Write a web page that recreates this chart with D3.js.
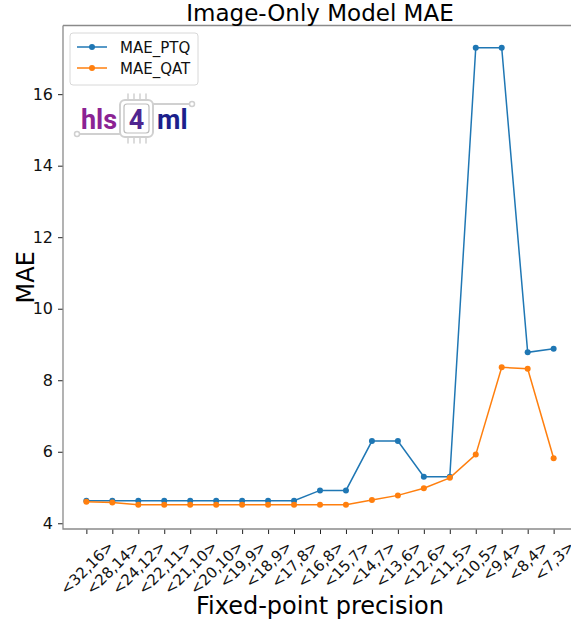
<!DOCTYPE html>
<html lang="en">
<head>
<meta charset="UTF-8">
<title>Image-Only Model MAE</title>
<script src="https://d3js.org/d3.v7.min.js"></script>
<style>
  body { margin: 0; background: #fff; }
  svg { display: block; font-family: "DejaVu Sans", sans-serif; }
</style>
</head>
<body>
<script>

// precisions <total,integer> on the x axis
var precisions = ['<32,16>', '<28,14>', '<24,12>', '<22,11>', '<21,10>', '<20,10>', '<19,9>',
    '<18,9>', '<17,8>', '<16,8>', '<15,7>', '<14,7>', '<13,6>', '<12,6>', '<11,5>',
    '<10,5>', '<9,4>', '<8,4>', '<7,3>'];

// values
var maePTQ = [4.63, 4.63, 4.63, 4.63, 4.63, 4.63, 4.63, 4.63, 4.63, 4.92, 4.92,
    6.30, 6.30, 5.30, 5.30, 17.30, 17.30, 8.78, 8.88];
var maeQAT = [4.60, 4.58, 4.52, 4.52, 4.52, 4.52, 4.52, 4.52, 4.52, 4.52, 4.52,
    4.65, 4.78, 4.98, 5.27, 5.92, 8.36, 8.32, 5.82];

var yTicks = [4, 6, 8, 10, 12, 14, 16];

var series = [
    { name: 'MAE_PTQ', values: maePTQ, color: '#1f77b4' },
    { name: 'MAE_QAT', values: maeQAT, color: '#ff7f0e' }
];

var W = 571, H = 622;
var axL = 63, axR = 577, axT = 25.5, axB = 529;
var font = '"DejaVu Sans", sans-serif';

var svg = d3.select('body').append('svg')
    .attr('width', W)
    .attr('height', H);

// matplotlib style margins: 5% each side
var x = d3.scaleLinear()
    .domain([-0.9, precisions.length - 1 + 0.9])
    .range([axL, axR]);

var y = d3.scaleLinear()
    .domain([3.84, 17.92])
    .range([axB, axT]);

// axes
var xAxis = svg.append('g')
    .attr('transform', 'translate(0,' + axB + ')')
    .call(d3.axisBottom(x)
        .tickValues(d3.range(precisions.length))
        .tickFormat(function(i) { return precisions[i]; })
        .tickSize(5));
xAxis.attr('font-family', font);
xAxis.select('.domain').remove();
xAxis.selectAll('line').attr('stroke', '#222');

// rotated 45deg, centred on the tick, top of the rotated box just under the tick
var tickFs = 15;
xAxis.selectAll('.tick text')
    .attr('font-size', tickFs)
    .attr('fill', '#111')
    .attr('text-anchor', 'middle')
    .attr('x', 0).attr('y', 0).attr('dy', '0.35em')
    .attr('transform', function() {
        var w = this.getComputedTextLength();
        var half = (w + tickFs * 1.05) / (2 * Math.SQRT2);
        return 'translate(0,' + (9 + half) + ') rotate(-45)';
    });

var yAxis = svg.append('g')
    .attr('transform', 'translate(' + axL + ',0)')
    .call(d3.axisLeft(y).tickValues(yTicks).tickSize(5).tickPadding(5));
yAxis.attr('font-family', font);
yAxis.select('.domain').remove();
yAxis.selectAll('line').attr('stroke', '#222');
yAxis.selectAll('text').attr('font-size', 16).attr('fill', '#111');

// spines (right one is cut off by the image edge)
svg.append('path')
    .attr('d', 'M' + axL + ',' + axT + 'H' + axR + 'M' + axL + ',' + axT + 'V' + axB + 'H' + axR)
    .attr('fill', 'none')
    .attr('stroke', '#8a8a8a')
    .attr('stroke-width', 1.3);

// lines + markers
var line = d3.line()
    .x(function(d, i) { return x(i); })
    .y(function(d) { return y(d); });

series.forEach(function(s) {
    svg.append('path')
        .datum(s.values)
        .attr('d', line)
        .attr('fill', 'none')
        .attr('stroke', s.color)
        .attr('stroke-width', 1.5);
    svg.selectAll(null)
        .data(s.values)
        .enter().append('circle')
        .attr('cx', function(d, i) { return x(i); })
        .attr('cy', function(d) { return y(d); })
        .attr('r', 3)
        .attr('fill', s.color);
});

// title and labels
svg.append('text')
    .attr('x', (axL + axR) / 2)
    .attr('y', 21)
    .attr('text-anchor', 'middle')
    .attr('font-size', 23)
    .text('Image-Only Model MAE');

svg.append('text')
    .attr('transform', 'translate(34,' + (axT + axB) / 2 + ') rotate(-90)')
    .attr('text-anchor', 'middle')
    .attr('font-size', 24)
    .text('MAE');

svg.append('text')
    .attr('x', (axL + axR) / 2)
    .attr('y', 614)
    .attr('text-anchor', 'middle')
    .attr('font-size', 24)
    .text('Fixed-point precision');

// legend
var legend = svg.append('g');
legend.append('rect')
    .attr('x', 70).attr('y', 33)
    .attr('width', 128).attr('height', 52)
    .attr('rx', 3)
    .attr('fill', '#fff')
    .attr('fill-opacity', 0.8)
    .attr('stroke', '#d8d8d8');
series.forEach(function(s, i) {
    var ly = 47 + i * 21;
    legend.append('line')
        .attr('x1', 77).attr('x2', 107)
        .attr('y1', ly).attr('y2', ly)
        .attr('stroke', s.color).attr('stroke-width', 1.5);
    legend.append('circle')
        .attr('cx', 92).attr('cy', ly).attr('r', 3)
        .attr('fill', s.color);
    legend.append('text')
        .attr('x', 120).attr('y', ly + 5.5)
        .attr('font-size', 15)
        .attr('fill', '#111')
        .text(s.name);
});

// hls4ml logo
var logo = svg.append('g').attr('stroke-linecap', 'round');
var grey = '#d0d0d0';
logo.append('line').attr('x1', 79).attr('y1', 134).attr('x2', 120).attr('y2', 134)
    .attr('stroke', grey).attr('stroke-width', 2);
logo.append('circle').attr('cx', 77).attr('cy', 134).attr('r', 2.5)
    .attr('fill', '#fff').attr('stroke', grey).attr('stroke-width', 1.5);
logo.append('line').attr('x1', 153).attr('y1', 104).attr('x2', 190).attr('y2', 104)
    .attr('stroke', grey).attr('stroke-width', 2);
logo.append('circle').attr('cx', 192).attr('cy', 104).attr('r', 2.5)
    .attr('fill', '#fff').attr('stroke', grey).attr('stroke-width', 1.5);
[128, 134, 140, 146].forEach(function(px) {
    logo.append('line').attr('x1', px).attr('x2', px).attr('y1', 94).attr('y2', 99)
        .attr('stroke', grey).attr('stroke-width', 1.5);
    logo.append('line').attr('x1', px).attr('x2', px).attr('y1', 138).attr('y2', 143)
        .attr('stroke', grey).attr('stroke-width', 1.5);
});
logo.append('rect').attr('x', 120).attr('y', 100).attr('width', 33).attr('height', 37)
    .attr('rx', 5).attr('fill', '#fff').attr('stroke', grey).attr('stroke-width', 2);
logo.append('rect').attr('x', 124).attr('y', 104).attr('width', 25).attr('height', 29)
    .attr('rx', 3).attr('fill', 'none').attr('stroke', '#bdbdbd').attr('stroke-width', 1.2);
logo.append('text').attr('x', 81).attr('y', 129)
    .attr('font-size', 27).attr('font-weight', 'bold').attr('fill', '#8b2393')
    .attr('font-family', 'Roboto, "DejaVu Sans", sans-serif')
    .text('hls');
logo.append('text').attr('x', 136.5).attr('y', 129)
    .attr('text-anchor', 'middle')
    .attr('font-size', 27).attr('font-weight', 'bold').attr('fill', '#4f2590')
    .attr('font-family', 'Roboto, "DejaVu Sans", sans-serif')
    .text('4');
logo.append('text').attr('x', 157).attr('y', 129)
    .attr('font-size', 27).attr('font-weight', 'bold').attr('fill', '#1c1f8c')
    .attr('font-family', 'Roboto, "DejaVu Sans", sans-serif')
    .text('ml');

</script>
</body>
</html>
